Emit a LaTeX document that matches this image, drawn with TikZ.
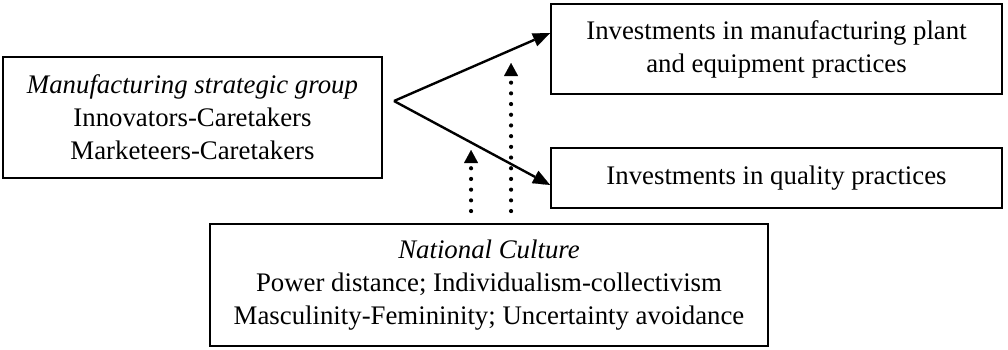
\documentclass[tikz,border=0pt]{standalone}
\usepackage{fontspec}
\setmainfont{Liberation Serif}
\usetikzlibrary{arrows.meta,calc}
\begin{document}
\begin{tikzpicture}[x=1pt,y=-1pt,
  box/.style={draw,line width=1.9pt,inner sep=0pt,align=center,
    font=\fontsize{26.8}{33}\selectfont},
  solidarrow/.style={line width=2.4pt,-{Triangle[length=17pt,width=14pt,line width=0.1pt]}},
  dotarrow/.style={line width=4.2pt,line cap=round,dash pattern=on 0pt off 10.7pt,
    -{Triangle[length=13pt,width=14pt,line width=0.1pt]}}]
\useasboundingbox (0,0) rectangle (1008,349);
\node[box,minimum width=379pt,minimum height=121pt] (L) at (192.5,117.5)
  {\textit{Manufacturing strategic group}\\Innovators-Caretakers\\Marketeers-Caretakers};
\node[box,minimum width=451pt,minimum height=90pt] (T) at (776.5,49)
  {Investments in manufacturing plant\\and equipment practices};
\node[box,minimum width=451pt,minimum height=60pt] (Q) at (776.5,178)
  {Investments in quality practices};
\node[box,minimum width=558pt,minimum height=122pt] (N) at (489,285)
  {\textit{National Culture}\\Power distance; Individualism-collectivism\\Masculinity-Femininity; Uncertainty avoidance};
\coordinate (apex) at (394,101);
\draw[solidarrow] (apex) -- ([yshift=16pt]T.west);
\draw[solidarrow] (apex) -- ([yshift=-7pt]Q.west);
\coordinate (d1) at ($(N.north west)+(262,-12)$);
\coordinate (d2) at ($(N.north west)+(302,-12)$);
\draw[dotarrow] (d1) -- (d1 |- 0,150);
\draw[dotarrow] (d2) -- (d2 |- 0,63);
\end{tikzpicture}
\end{document}
